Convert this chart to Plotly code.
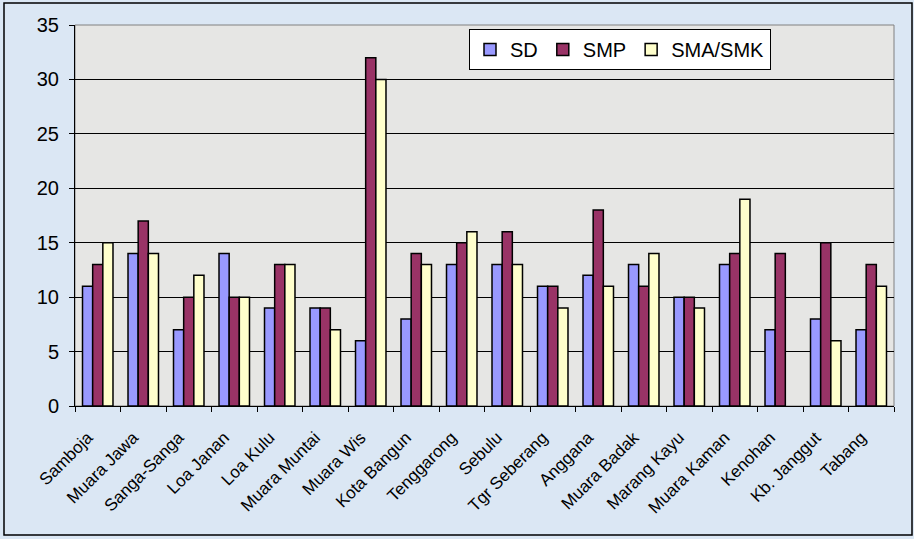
import plotly.graph_objects as go

categories = ["Samboja", "Muara Jawa", "Sanga-Sanga", "Loa Janan", "Loa Kulu",
              "Muara Muntai", "Muara Wis", "Kota Bangun", "Tenggarong", "Sebulu",
              "Tgr Seberang", "Anggana", "Muara Badak", "Marang Kayu", "Muara Kaman",
              "Kenohan", "Kb. Janggut", "Tabang"]
sd = [11, 14, 7, 14, 9, 9, 6, 8, 13, 13, 11, 12, 13, 10, 13, 7, 8, 7]
smp = [13, 17, 10, 10, 13, 9, 32, 14, 15, 16, 11, 18, 11, 10, 14, 14, 15, 13]
sma = [15, 14, 12, 10, 13, 7, 30, 13, 16, 13, 9, 11, 14, 9, 19, None, 6, 11]
y_ticks = [0, 5, 10, 15, 20, 25, 30, 35]

fig = go.Figure()
for name, vals, col in [("SD", sd, "#9999ff"), ("SMP", smp, "#993366"), ("SMA/SMK", sma, "#ffffcc")]:
    fig.add_trace(go.Bar(x=categories, y=vals, name=name,
                         marker=dict(color=col, line=dict(color="black", width=1.5))))

W, H = 914, 539
L, R, T, B = 75, 20, 25, 133
pw, ph = W - L - R, H - T - B

def px(x):
    return (x - L) / pw

def py(y):
    return (H - B - y) / ph

pad = "\u00a0\u00a0\u00a0"
fig.update_layout(
    width=W, height=H,
    margin=dict(l=L, r=R, t=T, b=B),
    paper_bgcolor="#dbe7f4",
    plot_bgcolor="#e6e6e4",
    barmode="group", bargap=0.33, bargroupgap=0,
    font=dict(family="Arial, Liberation Sans", color="black"),
    showlegend=True,
    legend=dict(orientation="h", x=px(469), y=py(29), xanchor="left", yanchor="top",
                bgcolor="white", bordercolor="black", borderwidth=1,
                font=dict(size=20), itemwidth=30, traceorder="normal"),
    xaxis=dict(showline=True, linecolor="black", linewidth=1, ticks="outside",
               tickson="boundaries", ticklen=5, tickcolor="black", tickangle=-45,
               tickmode="array", tickvals=categories,
               ticktext=[c + pad for c in categories],
               tickfont=dict(size=17), ticklabelstandoff=4, showgrid=False),
    yaxis=dict(range=[0, 35], tickvals=y_ticks, showline=True, linecolor="black",
               linewidth=1, ticks="outside", ticklen=5, tickcolor="black",
               gridcolor="black", gridwidth=1, tickfont=dict(size=20),
               ticklabelstandoff=6, zeroline=False),
    shapes=[
        dict(type="rect", xref="paper", yref="paper", x0=0, x1=1, y0=0, y1=1,
             line=dict(color="#808080", width=1), layer="below"),
        dict(type="rect", xref="paper", yref="paper", x0=px(4), x1=px(912),
             y0=py(535), y1=py(3), line=dict(color="black", width=1.5)),
    ],
)

fig.write_html("out.html", config={"displayModeBar": False},
               post_script="document.body.style.margin='0px';")
